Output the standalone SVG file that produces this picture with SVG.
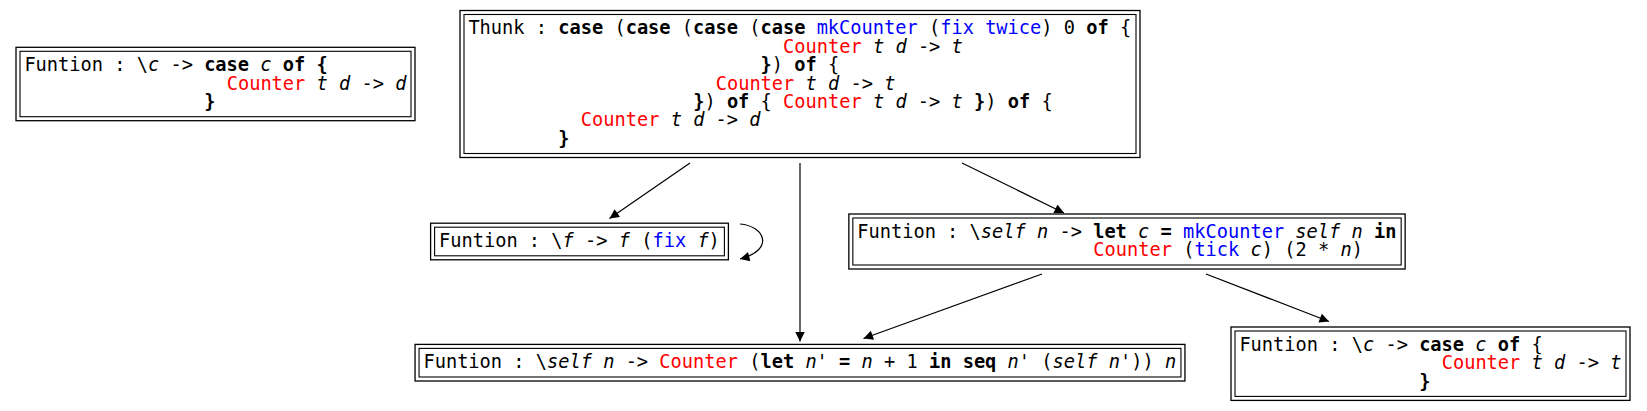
<svg xmlns="http://www.w3.org/2000/svg" width="1647" height="411" viewBox="0 0 1647 411">
<style>
.o{fill:none;stroke:#000;stroke-width:1.3}
.i{fill:none;stroke:#000;stroke-width:1.1}
text{font-family:"DejaVu Sans Mono","Liberation Mono",monospace;font-size:18.67px;fill:#000;white-space:pre}
.b{font-weight:bold}
.it{font-style:italic}
.r{fill:#ff0000}
.bl{fill:#0000ff}
.e{fill:none;stroke:#000;stroke-width:1.2}
</style>
<defs>
<marker id="ah" markerUnits="userSpaceOnUse" viewBox="0 0 10 10" refX="10" refY="5" markerWidth="13" markerHeight="9.5" orient="auto">
<path d="M0,0 L10,5 L0,10 z" fill="#000"/>
</marker>
</defs>
<rect width="1647" height="411" fill="#fff"/>
<g id="connectors">
<path class="e" d="M690,163 L609.5,218.5" marker-end="url(#ah)"/>
<path class="e" d="M800,163 L800,341.5" marker-end="url(#ah)"/>
<path class="e" d="M962,163 L1064,213" marker-end="url(#ah)"/>
<path class="e" d="M1042,274 L863.5,338.5" marker-end="url(#ah)"/>
<path class="e" d="M1206,274 L1329,321.5" marker-end="url(#ah)"/>
<path class="e" d="M740,224 C765,226 775,250 740,259" marker-end="url(#ah)"/>
</g>
<g id="n_fun_c_d">
<rect class="o" x="16" y="47.3" width="399" height="73.4"/>
<rect class="i" x="20" y="51.3" width="391" height="65.4"/>
<text xml:space="preserve" x="24.4" y="71.1">Funtion : \<tspan class="it">c</tspan> -&gt; <tspan class="b">case</tspan> <tspan class="it">c</tspan> <tspan class="b">of</tspan> <tspan class="b">{</tspan></text>
<text xml:space="preserve" x="226.7" y="89.5"><tspan class="r">Counter</tspan> <tspan class="it">t</tspan> <tspan class="it">d</tspan> -&gt; <tspan class="it">d</tspan></text>
<text xml:space="preserve" x="204.2" y="107.9" class="b">}</text>
</g>
<g id="n_thunk">
<rect class="o" x="460" y="10.5" width="680" height="147"/>
<rect class="i" x="464" y="14.5" width="672" height="139"/>
<text xml:space="preserve" x="468.4" y="34.3">Thunk : <tspan class="b">case</tspan> (<tspan class="b">case</tspan> (<tspan class="b">case</tspan> (<tspan class="b">case</tspan> <tspan class="bl">mkCounter</tspan> (<tspan class="bl">fix</tspan> <tspan class="bl">twice</tspan>) 0 <tspan class="b">of</tspan> {</text>
<text xml:space="preserve" x="783.1" y="52.7"><tspan class="r">Counter</tspan> <tspan class="it">t</tspan> <tspan class="it">d</tspan> -&gt; <tspan class="it">t</tspan></text>
<text xml:space="preserve" x="760.6" y="71.1"><tspan class="b">}</tspan>) <tspan class="b">of</tspan> {</text>
<text xml:space="preserve" x="715.7" y="89.5"><tspan class="r">Counter</tspan> <tspan class="it">t</tspan> <tspan class="it">d</tspan> -&gt; <tspan class="it">t</tspan></text>
<text xml:space="preserve" x="693.2" y="107.9"><tspan class="b">}</tspan>) <tspan class="b">of</tspan> { <tspan class="r">Counter</tspan> <tspan class="it">t</tspan> <tspan class="it">d</tspan> -&gt; <tspan class="it">t</tspan> <tspan class="b">}</tspan>) <tspan class="b">of</tspan> {</text>
<text xml:space="preserve" x="580.8" y="126.3"><tspan class="r">Counter</tspan> <tspan class="it">t</tspan> <tspan class="it">d</tspan> -&gt; <tspan class="it">d</tspan></text>
<text xml:space="preserve" x="558.3" y="144.7" class="b">}</text>
</g>
<g id="n_fix">
<rect class="o" x="430.6" y="223.2" width="297.8" height="36.6"/>
<rect class="i" x="434.6" y="227.2" width="289.8" height="28.6"/>
<text xml:space="preserve" x="439" y="247">Funtion : \<tspan class="it">f</tspan> -&gt; <tspan class="it">f</tspan> (<tspan class="bl">fix</tspan> <tspan class="it">f</tspan>)</text>
</g>
<g id="n_let">
<rect class="o" x="848.85" y="214" width="556.3" height="55"/>
<rect class="i" x="852.85" y="218" width="548.3" height="47"/>
<text xml:space="preserve" x="857.25" y="237.8">Funtion : \<tspan class="it">self</tspan> <tspan class="it">n</tspan> -&gt; <tspan class="b">let</tspan> <tspan class="it">c</tspan> <tspan class="b">=</tspan> <tspan class="bl">mkCounter</tspan> <tspan class="it">self</tspan> <tspan class="it">n</tspan> <tspan class="b">in</tspan></text>
<text xml:space="preserve" x="1093.3" y="256.2"><tspan class="r">Counter</tspan> (<tspan class="bl">tick</tspan> <tspan class="it">c</tspan>) (2 * <tspan class="it">n</tspan>)</text>
</g>
<g id="n_counter_seq">
<rect class="o" x="415.05" y="344.4" width="769.9" height="36.6"/>
<rect class="i" x="419.05" y="348.4" width="761.9" height="28.6"/>
<text xml:space="preserve" x="423.45" y="368.2">Funtion : \<tspan class="it">self</tspan> <tspan class="it">n</tspan> -&gt; <tspan class="r">Counter</tspan> (<tspan class="b">let</tspan> <tspan class="it">n'</tspan> <tspan class="b">=</tspan> <tspan class="it">n</tspan> + 1 <tspan class="b">in</tspan> <tspan class="b">seq</tspan> <tspan class="it">n'</tspan> (<tspan class="it">self</tspan> <tspan class="it">n'</tspan>)) <tspan class="it">n</tspan></text>
</g>
<g id="n_fun_c_t">
<rect class="o" x="1231" y="327" width="399" height="73.4"/>
<rect class="i" x="1235" y="331" width="391" height="65.4"/>
<text xml:space="preserve" x="1239.4" y="350.8">Funtion : \<tspan class="it">c</tspan> -&gt; <tspan class="b">case</tspan> <tspan class="it">c</tspan> <tspan class="b">of</tspan> {</text>
<text xml:space="preserve" x="1441.7" y="369.2"><tspan class="r">Counter</tspan> <tspan class="it">t</tspan> <tspan class="it">d</tspan> -&gt; <tspan class="it">t</tspan></text>
<text xml:space="preserve" x="1419.2" y="387.6" class="b">}</text>
</g>
</svg>
